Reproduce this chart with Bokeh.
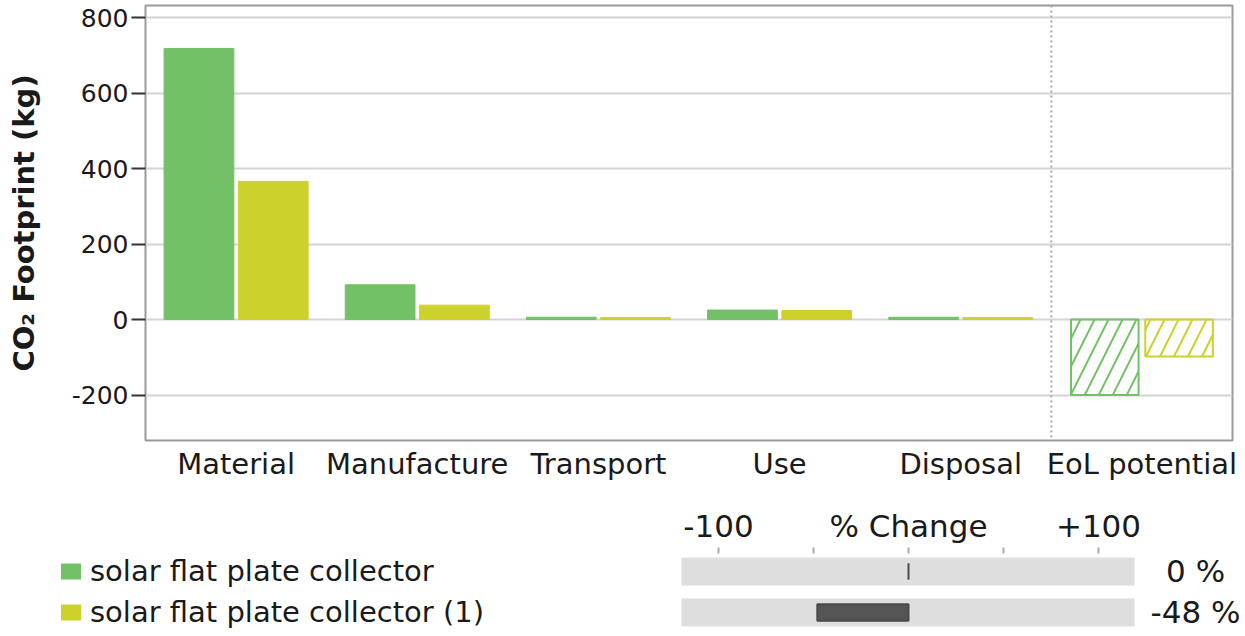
from bokeh.plotting import figure
from bokeh.models import (FactorRange, Range1d, FixedTicker, Span, Legend, LegendItem,
                          ColumnDataSource)
from bokeh.transform import dodge
from bokeh.layouts import column, row
from bokeh.embed import file_html
from bokeh.resources import INLINE

# ---------------- data ----------------
categories = ["Material", "Manufacture", "Transport", "Use", "Disposal", "EoL potential"]
series_names = ["solar flat plate collector", "solar flat plate collector (1)"]
co2_collector = [718, 92, 6, 25, 6, -200]
co2_collector_1 = [366, 38, 5, 24, 5, -98]
potential_category = "EoL potential"
pct_change = [0, -48]
y_ticks = [-200, 0, 200, 400, 600, 800]
y_tick_labels = {-200: "-200"}
pct_ticks = [-100, -50, 0, 50, 100]
pct_tick_labels = {-100: "-100", -50: "", 0: "% Change", 50: "", 100: "+100"}
pct_bg_limits = [-119.5, 119]

# ---------------- style ----------------
GREEN = "#73c167"
YELLOW = "#cdd12b"
FONT = "DejaVu Sans"
TXT = "#1a1a1a"

# ---------------- main chart ----------------
p = figure(x_range=FactorRange(*categories, range_padding=0, factor_padding=0),
           y_range=Range1d(-320.5, 831.8),
           width=1240, height=490,
           min_border_left=145, min_border_right=8, min_border_top=5, min_border_bottom=50,
           output_backend="svg", toolbar_location=None)

normal_idx = [i for i, c in enumerate(categories) if c != potential_category]
pot_idx = [i for i, c in enumerate(categories) if c == potential_category]

src_norm = ColumnDataSource(dict(cat=[categories[i] for i in normal_idx],
                                 a=[co2_collector[i] for i in normal_idx],
                                 b=[co2_collector_1[i] for i in normal_idx]))
src_pot = ColumnDataSource(dict(cat=[categories[i] for i in pot_idx],
                                a=[co2_collector[i] for i in pot_idx],
                                b=[co2_collector_1[i] for i in pot_idx]))

OFF = 0.205
BW = 0.385
p.vbar(x=dodge("cat", -OFF, range=p.x_range), top="a", bottom=0, width=BW,
       source=src_norm, fill_color=GREEN, line_color=GREEN)
p.vbar(x=dodge("cat", OFF, range=p.x_range), top="b", bottom=0, width=BW,
       source=src_norm, fill_color=YELLOW, line_color=YELLOW)
p.vbar(x=dodge("cat", -OFF, range=p.x_range), top=0, bottom="a", width=BW - 0.012,
       source=src_pot, fill_color=None, line_color=GREEN, line_width=2,
       hatch_pattern="/", hatch_color=GREEN, hatch_scale=28, hatch_weight=2)
p.vbar(x=dodge("cat", OFF, range=p.x_range), top=0, bottom="b", width=BW - 0.012,
       source=src_pot, fill_color=None, line_color=YELLOW, line_width=2,
       hatch_pattern="/", hatch_color=YELLOW, hatch_scale=28, hatch_weight=2)

p.add_layout(Span(location=categories.index(potential_category), dimension="height",
                  line_color="#a8a8a8", line_dash="2 3", line_width=2))

p.background_fill_color = "white"
p.border_fill_color = "white"
p.outline_line_color = "#9a9a9a"
p.outline_line_width = 2

p.xgrid.grid_line_color = None
p.ygrid.ticker = FixedTicker(ticks=y_ticks)
p.ygrid.grid_line_color = "#d3d3d3"
p.ygrid.grid_line_width = 2

p.yaxis.ticker = FixedTicker(ticks=y_ticks)
p.yaxis.major_label_overrides = y_tick_labels
p.yaxis.axis_line_color = None
p.yaxis.major_tick_line_color = "#333333"
p.yaxis.major_tick_line_width = 2
p.yaxis.major_tick_out = 14
p.yaxis.major_tick_in = 0
p.yaxis.minor_tick_line_color = None
p.yaxis.major_label_standoff = 3
p.yaxis.major_label_text_font = FONT
p.yaxis.major_label_text_font_size = "25px"
p.yaxis.major_label_text_color = TXT
p.yaxis.axis_label = "CO\u2082 Footprint (kg)"
p.yaxis.axis_label_text_font = FONT
p.yaxis.axis_label_text_font_style = "bold"
p.yaxis.axis_label_text_font_size = "29px"
p.yaxis.axis_label_text_color = TXT
p.yaxis.axis_label_standoff = 28

p.xaxis.axis_line_color = None
p.xaxis.major_tick_line_color = None
p.xaxis.minor_tick_line_color = None
p.xaxis.major_label_standoff = 0
p.xaxis.major_label_text_font = FONT
p.xaxis.major_label_text_font_size = "29px"
p.xaxis.major_label_text_color = TXT

# ---------------- bottom left: legend ----------------
p_leg = figure(x_range=Range1d(0, 1), y_range=Range1d(0, 1),
               width=680, height=142,
               min_border_left=0, min_border_right=0, min_border_top=0, min_border_bottom=0,
               x_axis_location=None, y_axis_location=None,
               output_backend="svg", toolbar_location=None)
p_leg.grid.grid_line_color = None
p_leg.outline_line_color = None
p_leg.background_fill_color = "white"
p_leg.border_fill_color = "white"

# legend swatches: zero-size bars (one datum each so the legend draws their swatch)
lg1 = p_leg.vbar(x=[0], top=[0], bottom=[0], width=0, fill_color=GREEN, line_color=None)
lg2 = p_leg.vbar(x=[0], top=[0], bottom=[0], width=0, fill_color=YELLOW, line_color=None)
legend = Legend(items=[LegendItem(label=series_names[0], renderers=[lg1]),
                       LegendItem(label=series_names[1], renderers=[lg2])],
                location=(58, 3), orientation="vertical",
                glyph_width=25, glyph_height=20, label_height=20, label_standoff=7,
                spacing=7, padding=0, margin=0,
                label_text_font=FONT, label_text_font_size="29px", label_text_color=TXT,
                background_fill_alpha=0, border_line_color=None)
p_leg.add_layout(legend)

# ---------------- bottom right: % change ----------------
# this figure starts at page x=680; 0 % sits at page x=908, 100 % = 190 px
p2 = figure(x_range=Range1d(-120.0, 174.74), y_range=Range1d(-0.488, 1.439),
            width=560, height=142,
            min_border_left=0, min_border_right=0, min_border_top=63, min_border_bottom=0,
            x_axis_location="above", y_axis_location=None,
            output_backend="svg", toolbar_location=None)
p2.grid.grid_line_color = None
p2.outline_line_color = None
p2.background_fill_color = "white"
p2.border_fill_color = "white"

n = len(pct_change)
row_y = [n - 1 - i for i in range(n)]
src_pct = ColumnDataSource(dict(
    y=row_y,
    bg_left=[pct_bg_limits[0]] * n,
    bg_right=[pct_bg_limits[1]] * n,
    left=[min(0, v) for v in pct_change],
    right=[max(0, v) for v in pct_change],
    label=[f"{v:.0f} %" for v in pct_change],
))
p2.hbar(y="y", left="bg_left", right="bg_right", height=0.68, source=src_pct,
        fill_color="#dedede", line_color=None)
p2.hbar(y="y", left="left", right="right", height=0.4, source=src_pct,
        fill_color="#555555", line_color="#4a4a4a", line_width=2)
p2.text(x="bg_right", y="y", text="label", source=src_pct, x_offset=61,
        text_align="center", text_baseline="middle",
        text_font_size="31px", text_color=TXT, text_font={"value": FONT})

p2.xaxis.ticker = FixedTicker(ticks=pct_ticks)
p2.xaxis.major_label_overrides = pct_tick_labels
p2.xaxis.axis_line_color = None
p2.xaxis.major_tick_line_color = "#aaaaaa"
p2.xaxis.major_tick_line_width = 2
p2.xaxis.major_tick_out = 6
p2.xaxis.major_tick_in = 0
p2.xaxis.minor_tick_line_color = None
p2.xaxis.major_label_standoff = 4
p2.xaxis.major_label_text_font = FONT
p2.xaxis.major_label_text_font_size = "31px"
p2.xaxis.major_label_text_color = TXT

layout = column(p, row(p_leg, p2, spacing=0), spacing=0)
open("out.html", "w").write(file_html(layout, INLINE))
